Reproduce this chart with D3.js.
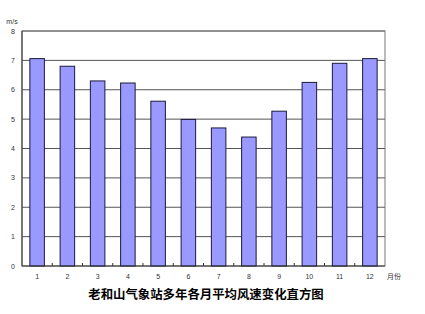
<!DOCTYPE html>
<html>
<head>
<meta charset="utf-8">
<script src="https://cdn.jsdelivr.net/npm/d3@7"></script>
<style>
  body { margin: 0; background: #fff; }
  svg text { font-family: "Liberation Sans", Arial, sans-serif; }
</style>
</head>
<body>
<div id="chart"></div>
<script>
// 月份 & 平均风速 (m/s)
const months = ['1', '2', '3', '4', '5', '6', '7', '8', '9', '10', '11', '12'];
const speeds = [7.06, 6.8, 6.3, 6.23, 5.61, 4.99, 4.7, 4.39, 5.27, 6.25, 6.9, 7.06];
const yTicks = [0, 1, 2, 3, 4, 5, 6, 7, 8];
const title = '老和山气象站多年各月平均风速变化直方图';

const width = 425, height = 314;
const margin = {left: 22, top: 31, right: 40, bottom: 48};

const svg = d3.select('#chart')
    .append('svg')
    .attr('width', width)
    .attr('height', height);

const x = d3.scaleBand()
    .domain(months)
    .range([margin.left, width - margin.right])
    .paddingInner(0.52)
    .paddingOuter(0.26);

const y = d3.scaleLinear()
    .domain([0, 8])
    .range([height - margin.bottom, margin.top]);

const step = x.step();
const x0 = margin.left, x1 = width - margin.right;

// 网格线
svg.append('g').selectAll('line')
    .data(yTicks.slice(1))
    .enter()
    .append('line')
    .attr('x1', x0).attr('x2', x1)
    .attr('y1', d => y(d)).attr('y2', d => y(d))
    .attr('stroke', '#555')
    .attr('stroke-width', 1);

// 边框
svg.append('rect')
    .attr('x', x0).attr('y', y(8))
    .attr('width', x1 - x0).attr('height', y(0) - y(8))
    .attr('fill', 'none')
    .attr('stroke', '#777')
    .attr('stroke-width', 1);

// 柱子
svg.append('g').selectAll('rect')
    .data(speeds)
    .enter()
    .append('rect')
    .attr('x', (d, i) => x(months[i]))
    .attr('y', d => y(d))
    .attr('width', x.bandwidth())
    .attr('height', d => y(0) - y(d))
    .attr('fill', '#9999ff')
    .attr('stroke', '#1a1a40')
    .attr('stroke-width', 1);

// 坐标轴线
svg.append('line')
    .attr('x1', x0).attr('x2', x0)
    .attr('y1', y(8)).attr('y2', y(0))
    .attr('stroke', '#333');
svg.append('line')
    .attr('x1', x0).attr('x2', x1)
    .attr('y1', y(0)).attr('y2', y(0))
    .attr('stroke', '#333');

// x 轴分隔刻度
svg.append('g').selectAll('line')
    .data(months.slice(1))
    .enter()
    .append('line')
    .attr('x1', d => x(d) - x.bandwidth() * 0.0 - step * 0.26)
    .attr('x2', d => x(d) - step * 0.26)
    .attr('y1', y(0) - 3).attr('y2', y(0))
    .attr('stroke', '#333');

// y 刻度标签
svg.append('g').selectAll('text')
    .data(yTicks)
    .enter()
    .append('text')
    .attr('x', 13)
    .attr('y', d => y(d) + 2.5)
    .attr('text-anchor', 'middle')
    .attr('font-size', 7)
    .attr('fill', '#333')
    .text(d => d);

svg.append('text')
    .attr('x', 12).attr('y', 24)
    .attr('text-anchor', 'middle')
    .attr('font-size', 7)
    .attr('fill', '#333')
    .text('m/s');

// x 刻度标签
svg.append('g').selectAll('text')
    .data(months)
    .enter()
    .append('text')
    .attr('x', d => x(d) + x.bandwidth() / 2)
    .attr('y', 279)
    .attr('text-anchor', 'middle')
    .attr('font-size', 7)
    .attr('fill', '#333')
    .text(d => d);

svg.append('text')
    .attr('x', 387).attr('y', 279)
    .attr('font-size', 7)
    .attr('fill', '#333')
    .style('font-family', '"Noto Sans CJK SC", sans-serif')
    .text('月份');

// 标题
svg.append('text')
    .attr('x', 206).attr('y', 299)
    .attr('text-anchor', 'middle')
    .attr('font-size', 12.4)
    .attr('font-weight', 'bold')
    .attr('fill', '#000')
    .style('font-family', '"Noto Sans CJK SC", sans-serif')
    .text(title);
</script>
</body>
</html>
